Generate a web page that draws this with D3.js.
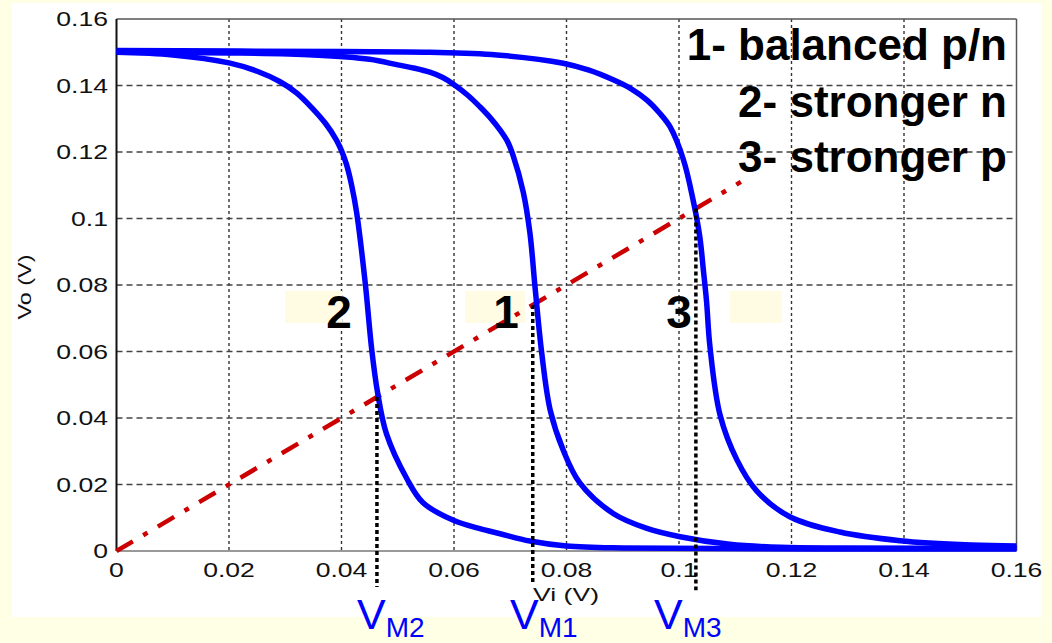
<!DOCTYPE html>
<html>
<head>
<meta charset="utf-8">
<script src="https://cdn.jsdelivr.net/npm/d3@7"></script>
<style>
  body { margin: 0; background: #FFFFE6; }
  svg { display: block; }
  text { font-family: "Liberation Sans", Arial, Helvetica, sans-serif; }
</style>
</head>
<body>
<svg id="chart" width="1052" height="643"></svg>
<script>
// inverter transfer curves, Vo vs Vi (V)
const xTicks = [0, 0.02, 0.04, 0.06, 0.08, 0.1, 0.12, 0.14, 0.16];
const xTickLabels = ["0", "0.02", "0.04", "0.06", "0.08", "0.1", "0.12", "0.14", "0.16"];
const yTicks = [0, 0.02, 0.04, 0.06, 0.08, 0.1, 0.12, 0.14, 0.16];
const yTickLabels = ["0", "0.02", "0.04", "0.06", "0.08", "0.1", "0.12", "0.14", "0.16"];

// 1 - balanced p/n
const vi1 = [0, 0.02, 0.035, 0.045, 0.05, 0.053, 0.0557, 0.058, 0.0599, 0.0625, 0.0646, 0.0665, 0.0682, 0.0695, 0.0705, 0.0723, 0.0735, 0.0744, 0.0756, 0.0771, 0.0794, 0.0824, 0.0883, 0.0943, 0.1002, 0.109, 0.118, 0.13, 0.16];
const vo1 = [0.150, 0.1498, 0.1492, 0.1479, 0.1462, 0.1452, 0.1440, 0.1424, 0.1404, 0.1370, 0.1336, 0.1302, 0.1266, 0.1232, 0.1190, 0.1080, 0.0956, 0.0795, 0.0595, 0.0424, 0.0304, 0.0204, 0.0113, 0.0068, 0.0043, 0.0020, 0.0011, 0.0009, 0.0008];
// 2 - stronger n
const vi2 = [0, 0.01, 0.02, 0.025, 0.029, 0.032, 0.0349, 0.0372, 0.0391, 0.040, 0.0409, 0.0418, 0.0427, 0.0442, 0.0454, 0.0464, 0.048, 0.0516, 0.0545, 0.0598, 0.0646, 0.0682, 0.0735, 0.08, 0.09, 0.16];
const vo2 = [0.150, 0.1492, 0.1468, 0.1443, 0.1412, 0.1378, 0.1330, 0.1285, 0.1236, 0.1204, 0.1162, 0.1100, 0.1017, 0.0809, 0.0602, 0.0478, 0.0352, 0.0218, 0.0145, 0.0093, 0.0067, 0.0052, 0.0030, 0.0015, 0.0009, 0.0006];
// 3 - stronger p
const vi3 = [0, 0.04, 0.0557, 0.0676, 0.0794, 0.084, 0.0883, 0.0915, 0.0943, 0.0965, 0.0984, 0.1008, 0.1025, 0.1037, 0.1043, 0.1049, 0.1055, 0.1073, 0.1103, 0.1138, 0.1197, 0.1286, 0.1393, 0.152, 0.16];
const vo3 = [0.1505, 0.1502, 0.150, 0.1492, 0.1467, 0.1446, 0.1417, 0.1390, 0.1356, 0.1318, 0.1276, 0.1176, 0.1056, 0.0945, 0.085, 0.075, 0.0615, 0.0409, 0.0274, 0.0181, 0.0103, 0.0057, 0.0031, 0.0018, 0.0015];

// switching points V_M2, V_M1, V_M3 and the Vo = Vi line
const vmValues = [0.0463, 0.0740, 0.1030];
const vmNames = ["M2", "M1", "M3"];
const diagEnd = 0.111;
const dropTo = [-0.0108, -0.0095, -0.0118];

const legendLines = ["1- balanced p/n", "2- stronger n", "3- stronger p"];

const svg = d3.select("#chart");
const plotLeft = 116.5, plotRight = 1016.5, plotTop = 19, plotBottom = 551;

const x = d3.scaleLinear().domain([0, 0.16]).range([plotLeft, plotRight]);
const y = d3.scaleLinear().domain([0, 0.16]).range([plotBottom, plotTop]);

// white figure panel
svg.append("rect")
    .attr("x", 12).attr("y", 3)
    .attr("width", 1030).attr("height", 614)
    .attr("fill", "#ffffff");

// grid
svg.append("g").selectAll("line")
    .data(xTicks.slice(1, -1))
    .enter().append("line")
    .attr("x1", d => x(d)).attr("x2", d => x(d))
    .attr("y1", plotTop).attr("y2", plotBottom)
    .attr("stroke", "#333")
    .attr("stroke-width", 1.4)
    .attr("stroke-dasharray", "3,3");

svg.append("g").selectAll("line")
    .data(yTicks.slice(1, -1))
    .enter().append("line")
    .attr("x1", plotLeft).attr("x2", plotRight)
    .attr("y1", d => y(d)).attr("y2", d => y(d))
    .attr("stroke", "#444")
    .attr("stroke-width", 1.3)
    .attr("stroke-dasharray", "6,4");

// box
svg.append("line").attr("x1", plotLeft).attr("x2", plotRight).attr("y1", plotTop).attr("y2", plotTop)
    .attr("stroke", "#555").attr("stroke-width", 1.5);
svg.append("line").attr("x1", plotRight).attr("x2", plotRight).attr("y1", plotTop).attr("y2", plotBottom)
    .attr("stroke", "#555").attr("stroke-width", 1.5);
svg.append("line").attr("x1", plotLeft).attr("x2", plotRight).attr("y1", plotBottom).attr("y2", plotBottom)
    .attr("stroke", "#999").attr("stroke-width", 2);
svg.append("line").attr("x1", plotLeft).attr("x2", plotLeft).attr("y1", plotTop).attr("y2", plotBottom)
    .attr("stroke", "#111").attr("stroke-width", 2);

// tick labels (stretched wide like the original)
const tickFont = 20, stretch = 1.33;
xTicks.forEach((t, i) => {
    svg.append("text")
        .attr("transform", `translate(${x(t)},577) scale(${stretch},1)`)
        .attr("text-anchor", "middle")
        .attr("font-size", tickFont)
        .attr("fill", "#111")
        .text(xTickLabels[i]);
});
yTicks.forEach((t, i) => {
    svg.append("text")
        .attr("transform", `translate(108,${y(t) + 7}) scale(${stretch},1)`)
        .attr("text-anchor", "end")
        .attr("font-size", tickFont)
        .attr("fill", "#111")
        .text(yTickLabels[i]);
});

// axis labels
svg.append("text")
    .attr("transform", "translate(31,287) rotate(-90)")
    .attr("text-anchor", "middle")
    .attr("font-size", 18)
    .attr("textLength", 65)
    .attr("lengthAdjust", "spacingAndGlyphs")
    .attr("fill", "#111")
    .text("Vo (V)");

svg.append("text")
    .attr("x", 566).attr("y", 601)
    .attr("text-anchor", "middle")
    .attr("font-size", 18)
    .attr("textLength", 66)
    .attr("lengthAdjust", "spacingAndGlyphs")
    .attr("fill", "#111")
    .text("Vi (V)");

// cream boxes behind the curve numbers
[[285, 57], [465, 60], [730, 52]].forEach(([bx, bw]) => {
    svg.append("rect")
        .attr("x", bx).attr("y", 291)
        .attr("width", bw).attr("height", 32)
        .attr("fill", "#FFFCE3");
});

// Vo = Vi line
svg.append("line")
    .attr("x1", x(0)).attr("y1", y(0))
    .attr("x2", x(diagEnd)).attr("y2", y(diagEnd))
    .attr("stroke", "#CC0000")
    .attr("stroke-width", 4.5)
    .attr("stroke-dasharray", "19,12,5,12");

// curves
const line = d3.line()
    .x(d => x(d[0]))
    .y(d => y(d[1]))
    .curve(d3.curveCatmullRom.alpha(0.5));

[[vi3, vo3], [vi1, vo1], [vi2, vo2]].forEach(([xs, ys]) => {
    svg.append("path")
        .datum(xs.map((v, i) => [v, ys[i]]))
        .attr("fill", "none")
        .attr("stroke", "#0000FF")
        .attr("stroke-width", 5.5)
        .attr("stroke-linejoin", "round")
        .attr("d", line);
});

// dotted drops at V_M
vmValues.forEach((v, i) => {
    svg.append("line")
        .attr("x1", x(v)).attr("x2", x(v))
        .attr("y1", y(v)).attr("y2", y(dropTo[i]))
        .attr("stroke", "#000")
        .attr("stroke-width", 3.5)
        .attr("stroke-dasharray", "4,3");
});

// curve numbers
[["2", 339], ["1", 506], ["3", 679]].forEach(([t, cx]) => {
    svg.append("text")
        .attr("x", cx).attr("y", 328)
        .attr("text-anchor", "middle")
        .attr("font-size", 46)
        .attr("font-weight", "bold")
        .attr("fill", "#000")
        .text(t);
});

// legend
legendLines.forEach((t, i) => {
    svg.append("text")
        .attr("x", 1007).attr("y", [60, 117, 172][i])
        .attr("text-anchor", "end")
        .attr("font-size", 44)
        .attr("font-weight", "bold")
        .attr("fill", "#000")
        .text(t);
});

// V_M labels
[357, 510, 654].forEach((lx, i) => {
    const t = svg.append("text")
        .attr("x", lx).attr("y", 629)
        .attr("font-size", 43)
        .attr("fill", "#0000FF");
    t.append("tspan").text("V");
    t.append("tspan").attr("font-size", 28).attr("dy", 8).text(vmNames[i]);
});
</script>
</body>
</html>
